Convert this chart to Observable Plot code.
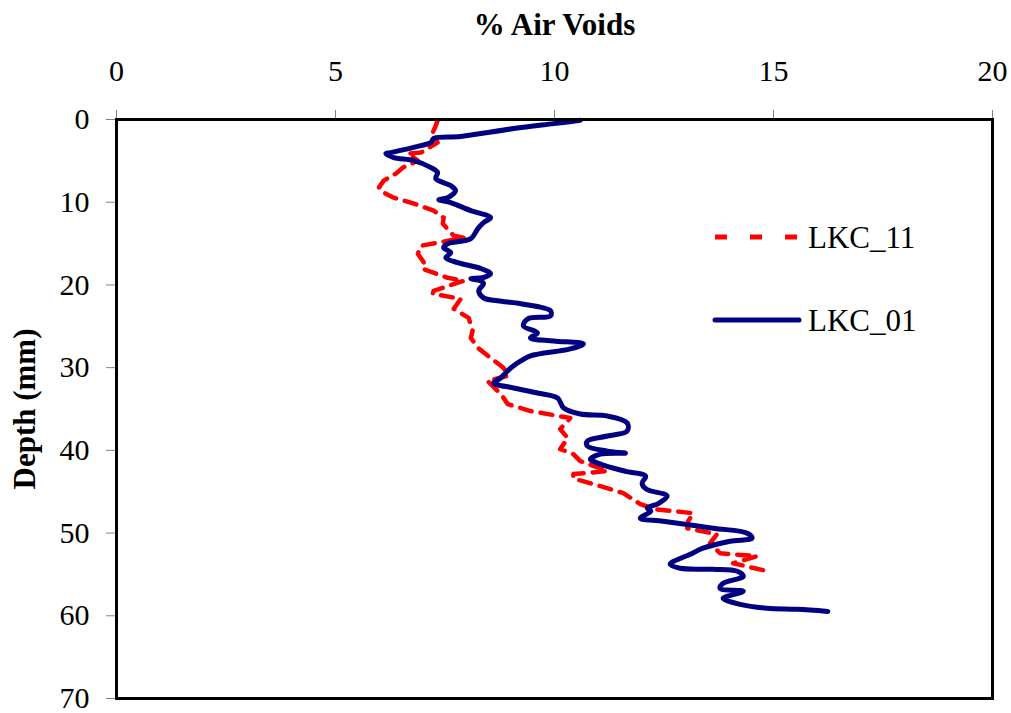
<!DOCTYPE html>
<html>
<head>
<meta charset="utf-8">
<script src="https://cdn.jsdelivr.net/npm/d3@7"></script>
<script src="https://cdn.jsdelivr.net/npm/@observablehq/plot@0.6"></script>
<style>
  html, body { margin: 0; padding: 0; background: #fff; }
  #wrap { position: relative; width: 1011px; height: 713px; }
  #legend { position: absolute; left: 0; top: 0; pointer-events: none; }
</style>
</head>
<body>
<div id="wrap"></div>
<script>
// ---- data ----
const xTicks = [0, 5, 10, 15, 20];
const yTicks = [0, 10, 20, 30, 40, 50, 60, 70];
const seriesNames = ["LKC_11", "LKC_01"];

// LKC_01 (solid navy)
const depth01 = [0.1,0.5,1.1,2.06,2.3,2.79,3.15,4.0,4.12,4.6,4.97,5.81,6.42,7.15,7.99,8.6,9.45,9.69,10.05,11.02,11.87,12.47,13.2,14.4,15.02,15.5,16.1,16.7,17.3,18.0,18.65,19.1,19.26,19.5,19.86,20.7,21.56,21.92,22.28,23.13,23.74,24.1,24.95,25.8,26.4,26.77,27.13,27.73,28.58,29.19,30.04,31.25,31.85,32.46,33.06,33.67,34.88,35.61,35.85,36.7,37.66,38.27,38.88,39.48,40.09,40.33,40.45,41.06,41.66,42.51,43.11,44.0,44.7,45.5,46.4,46.99,47.35,48.2,48.56,49.41,50.02,50.62,50.99,51.83,52.56,53.77,54.26,54.38,54.62,55.23,56.07,56.68,57.04,57.89,58.62,59.1,59.22,59.47];
const voids01 = [10.59,9.98,9.07,7.86,7.24,7.18,6.95,6.26,6.15,6.33,6.79,7.18,7.33,7.29,7.63,7.74,7.56,7.36,7.63,8.09,8.54,8.38,8.25,8.09,7.56,7.47,7.63,7.52,7.79,8.31,8.54,8.38,8.09,8.31,8.38,8.27,8.38,8.70,9.23,9.91,9.91,9.39,9.29,9.61,9.45,9.98,10.66,10.36,9.45,9.23,9.0,8.77,8.61,9.07,9.61,10.07,10.21,10.59,11.21,11.66,11.66,11.21,10.75,10.75,11.21,11.62,11.05,10.82,11.05,11.6,12.08,12.0,12.1,12.57,12.38,12.12,12.2,11.96,12.48,13.62,14.40,14.51,14.01,13.39,13.10,12.64,12.87,13.62,14.17,14.31,13.85,13.78,14.31,13.85,14.24,14.85,15.54,16.24];

// LKC_11 (dashed red)
const depth11 = [0.12,0.73,1.57,2.79,4.0,4.12,4.97,5.81,6.54,7.39,8.24,8.84,9.45,10.17,11.02,11.87,12.6,14.05,14.29,14.9,15.26,16.23,17.32,18.05,19.14,19.5,20.71,21.07,21.68,22.89,23.98,25.55,26.4,27.61,28.82,30.04,31.0,31.6,32.82,33.67,34.4,35.25,36.09,37.42,38.51,39.84,40.45,41.3,42.51,42.87,43.4,44.33,45.17,46.51,47.11,47.6,48.56,49.41,50.14,51.23,52.44,52.8,53.65,54.62];
const voids11 = [7.33,7.29,7.22,7.33,6.95,6.65,6.88,6.54,6.38,6.10,5.99,6.10,6.33,6.79,7.24,7.47,7.45,7.70,7.93,7.33,6.95,6.88,7.02,6.99,7.56,7.93,7.24,7.22,7.86,7.70,8.04,8.13,8.09,8.25,8.54,8.84,8.93,8.47,8.70,8.84,8.93,9.45,10.36,10.13,10.30,10.13,10.43,10.59,11.21,10.43,10.43,11.05,11.57,11.96,12.30,13.17,13.05,13.03,13.71,13.55,13.78,14.62,14.08,14.87];

const lkc01 = depth01.map((d, i) => ({depth: d, voids: voids01[i]}));
const lkc11 = depth11.map((d, i) => ({depth: d, voids: voids11[i]}));

const RED = "#ff0000", NAVY = "#000080";
const FONT = "'Liberation Serif', 'Times New Roman', serif";

const chart = Plot.plot({
  width: 1011,
  height: 713,
  marginTop: 119,
  marginLeft: 116,
  marginRight: 19,
  marginBottom: 15,
  style: {fontFamily: FONT, fontSize: "30px", color: "black", background: "white", overflow: "visible"},
  x: {domain: [0, 20]},
  y: {domain: [0, 70], reverse: true},
  marks: [
    Plot.axisX({anchor: "top", ticks: xTicks, tickSize: 10, tickPadding: 29, stroke: "#808080", label: null, fontSize: 30}),
    Plot.axisY({anchor: "left", ticks: yTicks, tickSize: 10, tickPadding: 17, stroke: "#808080", label: null, fontSize: 30}),
    Plot.line(lkc11, {x: "voids", y: "depth", stroke: RED, strokeWidth: 4.5, strokeDasharray: "12,9", curve: "linear"}),
    Plot.line(lkc01, {x: "voids", y: "depth", stroke: NAVY, strokeWidth: 5, curve: "catmull-rom", strokeLinecap: "round", strokeLinejoin: "round"}),
    Plot.frame({stroke: "black", strokeWidth: 3}),
    Plot.text(["% Air Voids"], {frameAnchor: "top", dy: -94, lineAnchor: "middle", textAnchor: "middle", fontWeight: "bold", fontSize: 31, fill: "black"}),
    Plot.text(["Depth (mm)"], {frameAnchor: "left", dx: -91, rotate: -90, textAnchor: "middle", lineAnchor: "middle", fontWeight: "bold", fontSize: 31, fill: "black"})
  ]
});

const wrap = document.getElementById("wrap");
wrap.appendChild(chart);

// legend overlay (inside plot area, right side)
const leg = d3.create("svg").attr("id", "legend").attr("width", 1011).attr("height", 713);
const items = [
  {name: seriesNames[0], color: RED, dash: "12,23", width: 5, y: 237},
  {name: seriesNames[1], color: NAVY, dash: null, width: 5, y: 320}
];
items.forEach(it => {
  leg.append("line")
    .attr("x1", 715).attr("x2", 799).attr("y1", it.y).attr("y2", it.y)
    .attr("stroke", it.color).attr("stroke-width", it.width)
    .attr("stroke-dasharray", it.dash)
    .attr("stroke-linecap", it.dash ? "butt" : "round");
  leg.append("text")
    .attr("x", 808).attr("y", it.y + 11)
    .attr("font-family", FONT).attr("font-size", 31)
    .attr("fill", "black")
    .text(it.name);
});
wrap.appendChild(leg.node());
</script>
</body>
</html>
